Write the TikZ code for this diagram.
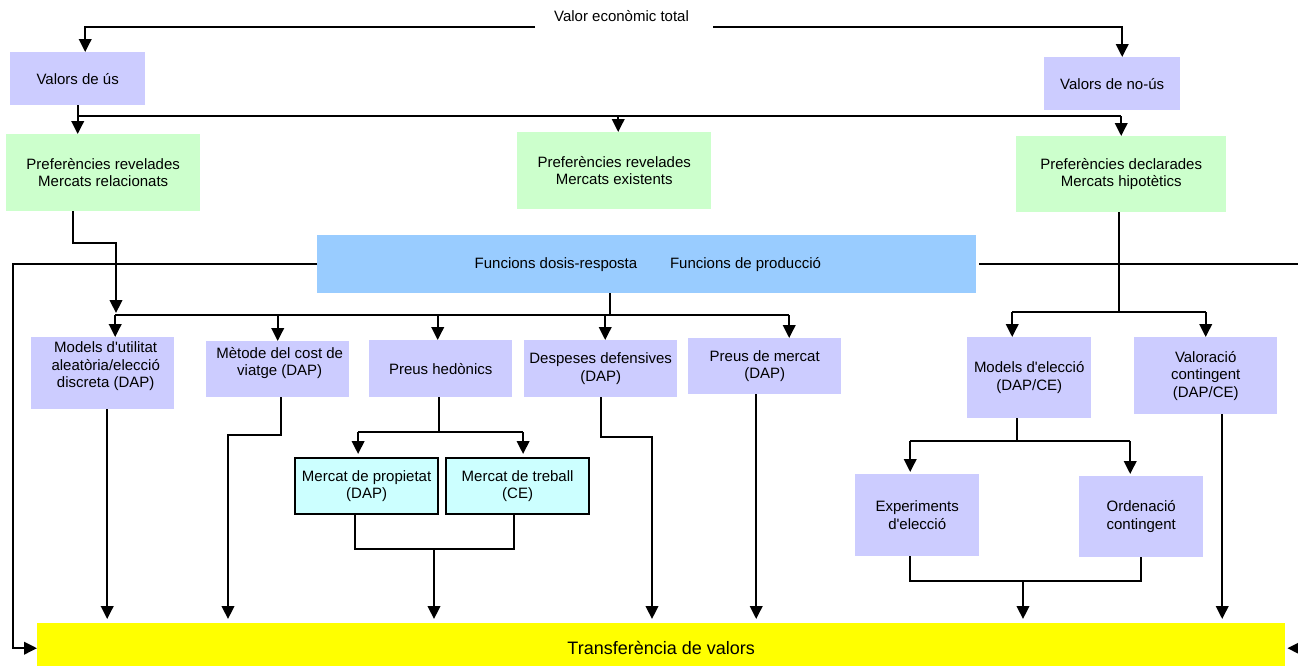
\documentclass[tikz,border=0pt]{standalone}
\usepackage{fontspec}
\setmainfont{Liberation Sans}[Ligatures=TeXOff]
\usetikzlibrary{arrows.meta}
\definecolor{lav}{HTML}{CCCCFF}
\definecolor{mint}{HTML}{CCFFCC}
\definecolor{sky}{HTML}{99CCFF}
\definecolor{aqua}{HTML}{CCFFFF}
\definecolor{lemon}{HTML}{FFFF00}
\begin{document}
\begin{tikzpicture}[x=1pt,y=-1pt,
  txt/.style={font=\fontsize{15pt}{17.5pt}\selectfont, align=center, inner sep=0pt},
  box/.style={txt, anchor=north west},
  lavbox/.style={box, fill=lav},
  greenbox/.style={box, fill=mint},
  cyanbox/.style={box, fill=aqua, draw=black, line width=2.2pt},
  ln/.style={line width=2.3pt},
  arr/.style={ln, -{Triangle[length=13pt,width=12.5pt]}},
  arrb/.style={arr, shorten >=4pt},
]
\useasboundingbox (0,0) rectangle (1298,665);
\fill[white] (0,0) rectangle (1298,665);

% ---- boxes ----
\node[txt] (vet) at (621.5,16) {Valor econòmic total};
\node[lavbox, minimum width=135pt, minimum height=53pt] (vus) at (10,52) {Valors de ús};
\node[lavbox, minimum width=136pt, minimum height=53pt] (vnu) at (1044,57) {Valors de no-ús};

\node[greenbox, minimum width=194pt, minimum height=77pt] (prl) at (6,134) {Preferències revelades\\Mercats relacionats};
\node[greenbox, minimum width=194pt, minimum height=77pt] (prm) at (517,132) {Preferències revelades\\Mercats existents};
\node[greenbox, minimum width=210pt, minimum height=76pt] (pdm) at (1016,136) {Preferències declarades\\Mercats hipotètics};

\node[box, fill=sky, minimum width=659pt, minimum height=58pt] (fun) at (317,235) {};
\node[txt] (fdr) at (556,265) {Funcions dosis-resposta};
\node[txt] (fdp) at (745.5,265) {Funcions de producció};

\node[lavbox, minimum width=143pt, minimum height=72pt] (mud) at (31,337) {};
\node[txt] (mudt) at ([xshift=3pt,yshift=7pt]mud.center) {Models d'utilitat\\aleatòria/elecció\\discreta (DAP)};
\node[lavbox, minimum width=143pt, minimum height=56pt] (mcv) at (206,341) {};
\node[txt] (mcvt) at ([xshift=2pt,yshift=6pt]mcv.center) {Mètode del cost de\\viatge (DAP)};
\node[lavbox, minimum width=143pt, minimum height=57pt] (phe) at (369,340) {Preus hedònics};
\node[lavbox, minimum width=153pt, minimum height=57pt] (dde) at (524,340) {Despeses defensives\\(DAP)};
\node[lavbox, minimum width=153pt, minimum height=56pt] (pme) at (688,338) {Preus de mercat\\(DAP)};
\node[lavbox, minimum width=124pt, minimum height=81pt] (mel) at (967,337) {Models d'elecció\\(DAP/CE)};
\node[lavbox, minimum width=143pt, minimum height=77pt] (vco) at (1134,337) {Valoració\\contingent\\(DAP/CE)};

\node[cyanbox, minimum width=143pt, minimum height=56pt] (mpr) at (294,457) {Mercat de propietat\\(DAP)};
\node[cyanbox, minimum width=143pt, minimum height=56pt] (mtr) at (445,457) {Mercat de treball\\(CE)};
\node[lavbox, minimum width=124pt, minimum height=82pt] (exp) at (855,474) {Experiments\\d'elecció};
\node[lavbox, minimum width=124pt, minimum height=81pt] (ord) at (1079,476) {Ordenació\\contingent};

\node[box, fill=lemon, minimum width=1248pt, minimum height=50pt, font=\fontsize{18pt}{21pt}\selectfont] (tra) at (37,623) {Transferència de valors};

% ---- total value split ----
\coordinate (vl) at (535,27);
\coordinate (vr) at (713,27);
\draw[arr] (vl) -| ([xshift=7.5pt]vus.north);
\draw[arr] (vr) -| ([xshift=10pt]vnu.north);

% ---- use values to the three preference groups ----
\coordinate (b1) at (77,116);
\coordinate (p2) at ([xshift=4pt]prm.north);
\draw[ln] (vus.south) -- (vus.south |- b1) -- (pdm.north |- b1);
\draw[arr] (vus.south |- b1) -- (vus.south |- prl.north);
\draw[arr] (p2 |- b1) -- (p2);
\draw[arr] (pdm.north |- b1) -- (pdm.north);

% ---- revealed preferences (related markets) ----
\coordinate (k1) at (116,243);
\coordinate (b2) at (609,315);
\draw[arr, shorten >=2pt] ([xshift=-30pt]prl.south) |- (k1) -- (k1 |- b2);

% ---- dose-response / production functions branch ----
\coordinate (f0) at ([xshift=-37pt]fun.south);
\coordinate (a1) at ([xshift=12.5pt]mud.north);
\coordinate (a3) at ([xshift=-3pt]phe.north);
\coordinate (a4) at ([xshift=4.5pt]dde.north);
\coordinate (a5) at ([xshift=24.5pt]pme.north);
\draw[ln] (f0) -- (f0 |- b2);
\draw[ln] (a1 |- b2) -- (a5 |- b2);
\draw[arr] (a1 |- b2) -- (a1);
\draw[arr] (mcv.north |- b2) -- (mcv.north);
\draw[arr] (a3 |- b2) -- (a3);
\draw[arr] (a4 |- b2) -- (a4);
\draw[arr] (a5 |- b2) -- (a5);

% side loops into the transfer bar
\coordinate (lp) at (13,0);
\coordinate (rp) at (1306,0);
\draw[arr] (fun.west) -- (fun.west -| lp) |- (tra.west);
\draw[arr] ([xshift=3pt]fun.east) -- (fun.east -| rp) |- ([xshift=2pt]tra.east);

% ---- stated preferences branch ----
\coordinate (d0) at ([xshift=-2pt]pdm.south);
\coordinate (b3) at (1119,312);
\coordinate (e1) at ([xshift=-17pt]mel.north);
\draw[ln] (d0) -- (d0 |- b3);
\draw[ln] (e1 |- b3) -- (vco.north |- b3);
\draw[arr] (e1 |- b3) -- (e1);
\draw[arr] (vco.north |- b3) -- (vco.north);

% ---- methods down to the transfer bar ----
\coordinate (t1) at ([xshift=4.5pt]mud.south);
\draw[arrb] (t1) -- (t1 |- tra.north);

\coordinate (t2) at ([xshift=3.5pt]mcv.south);
\coordinate (m1) at (228,435);
\draw[arrb] (t2) |- (m1) -- (m1 |- tra.north);

% hedonic prices split
\coordinate (h0) at ([xshift=-1.5pt]phe.south);
\coordinate (b4) at (439,432);
\coordinate (h1) at ([xshift=-8.5pt]mpr.north);
\coordinate (h2) at ([xshift=5.5pt]mtr.north);
\draw[ln] (h0) -- (h0 |- b4);
\draw[ln] (h1 |- b4) -- (h2 |- b4);
\draw[arr, shorten >=3pt] (h1 |- b4) -- (h1);
\draw[arr, shorten >=3pt] (h2 |- b4) -- (h2);

\coordinate (g1) at ([xshift=-11.5pt]mpr.south);
\coordinate (g2) at ([xshift=-3.5pt]mtr.south);
\coordinate (b5) at (434,549);
\draw[ln] (g1) |- (b5) -| (g2);
\draw[arrb] (b5) -- (b5 |- tra.north);

\coordinate (m2) at (652,437);
\draw[arrb] (dde.south) |- (m2) -- (m2 |- tra.north);

\coordinate (t5) at ([xshift=-8.5pt]pme.south);
\draw[arrb] (t5) -- (t5 |- tra.north);

% choice models split
\coordinate (n0) at ([xshift=-12pt]mel.south);
\coordinate (b6) at (1017,441);
\coordinate (n1) at ([xshift=-7pt]exp.north);
\coordinate (n2) at ([xshift=-11pt]ord.north);
\draw[ln] (n0) -- (n0 |- b6);
\draw[ln] (n1 |- b6) -- (n2 |- b6);
\draw[arr, shorten >=2pt] (n1 |- b6) -- (n1);
\draw[arr, shorten >=2pt] (n2 |- b6) -- (n2);

\coordinate (o1) at ([xshift=-7pt]exp.south);
\coordinate (b7) at (1023,581);
\draw[ln] (o1) |- (b7) -| (ord.south);
\draw[arrb] (b7) -- (b7 |- tra.north);

\coordinate (t7) at ([xshift=16.5pt]vco.south);
\draw[arrb] (t7) -- (t7 |- tra.north);
\end{tikzpicture}
\end{document}
